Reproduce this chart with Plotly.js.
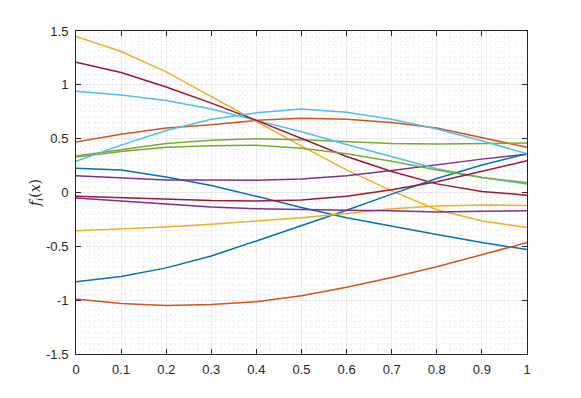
<!DOCTYPE html>
<html lang="en">
<head>
  <meta charset="UTF-8">
  <title>f_i(x)</title>
  <script src="https://cdn.plot.ly/plotly-3.0.1.min.js"></script>
  <style>
    body { margin: 0; background: #ffffff; }
    #chart { width: 581px; height: 398px; }
  </style>
</head>
<body>
  <div id="chart"></div>

  <script>
    // sample points
    const xVals = [0, 0.1, 0.2, 0.3, 0.4, 0.5, 0.6, 0.7, 0.8, 0.9, 1];
    const xTickVals = [0, 0.1, 0.2, 0.3, 0.4, 0.5, 0.6, 0.7, 0.8, 0.9, 1];
    const xTickText = ['0', '0.1', '0.2', '0.3', '0.4', '0.5', '0.6', '0.7', '0.8', '0.9', '1'];
    const yTickVals = [-1.5, -1, -0.5, 0, 0.5, 1, 1.5];
    const yTickText = ['-1.5', '-1', '-0.5', '0', '0.5', '1', '1.5'];

    // first pass through the colour order
    const blueA = [0.225, 0.21, 0.145, 0.065, -0.035, -0.14, -0.235, -0.315, -0.39, -0.465, -0.53];
    const orangeA = [0.47, 0.54, 0.60, 0.63, 0.67, 0.69, 0.68, 0.65, 0.60, 0.51, 0.42];
    const yellowA = [1.45, 1.31, 1.12, 0.89, 0.66, 0.43, 0.21, 0.015, -0.16, -0.265, -0.325];
    const purpleA = [0.155, 0.135, 0.115, 0.115, 0.113, 0.125, 0.155, 0.205, 0.26, 0.31, 0.355];
    const greenA = [0.34, 0.40, 0.455, 0.485, 0.50, 0.49, 0.47, 0.455, 0.45, 0.455, 0.46];
    const lightBlueA = [0.94, 0.905, 0.855, 0.775, 0.67, 0.565, 0.445, 0.33, 0.22, 0.14, 0.08];
    const darkRedA = [1.21, 1.115, 0.98, 0.83, 0.67, 0.50, 0.335, 0.195, 0.08, 0.01, -0.025];

    // second pass
    const blueB = [-0.83, -0.78, -0.70, -0.59, -0.45, -0.31, -0.165, -0.015, 0.13, 0.255, 0.36];
    const orangeB = [-0.99, -1.03, -1.05, -1.04, -1.015, -0.96, -0.88, -0.79, -0.69, -0.58, -0.465];
    const yellowB = [-0.355, -0.34, -0.32, -0.295, -0.265, -0.235, -0.195, -0.15, -0.125, -0.115, -0.12];
    const purpleB = [-0.05, -0.08, -0.11, -0.135, -0.15, -0.16, -0.165, -0.17, -0.18, -0.175, -0.17];
    const greenB = [0.33, 0.38, 0.42, 0.435, 0.44, 0.41, 0.36, 0.29, 0.21, 0.14, 0.09];
    const lightBlueB = [0.29, 0.44, 0.575, 0.68, 0.74, 0.775, 0.745, 0.68, 0.59, 0.48, 0.36];
    const darkRedB = [-0.035, -0.05, -0.065, -0.075, -0.078, -0.07, -0.035, 0.025, 0.10, 0.195, 0.295];

    // MATLAB default line colours
    const colorOrder = ['#0072BD', '#D95319', '#EDB120', '#7E2F8E', '#77AC30', '#4DBEEE', '#A2142F'];

    const series = [blueA, orangeA, yellowA, purpleA, greenA, lightBlueA, darkRedA,
                    blueB, orangeB, yellowB, purpleB, greenB, lightBlueB, darkRedB];

    const data = series.map((ys, i) => ({
      x: xVals,
      y: ys,
      type: 'scatter',
      mode: 'lines',
      line: { color: colorOrder[i % colorOrder.length], width: 1.5 },
      hoverinfo: 'skip',
      showlegend: false
    }));

    const axisColor = '#262626';

    const layout = {
      width: 581,
      height: 398,
      margin: { l: 76, r: 54, t: 31, b: 44 },
      paper_bgcolor: '#ffffff',
      plot_bgcolor: '#ffffff',
      font: { family: 'Liberation Sans, Arial, sans-serif', size: 13, color: axisColor },
      xaxis: {
        range: [0, 1],
        tickvals: xTickVals,
        ticktext: xTickText,
        ticks: 'inside',
        ticklen: 5,
        tickcolor: axisColor,
        ticklabelstandoff: 3,
        showline: true,
        linecolor: axisColor,
        linewidth: 1,
        mirror: 'ticks',
        showgrid: true,
        gridcolor: '#e0e0e0',
        gridwidth: 0.6,
        zeroline: false,
        minor: { dtick: 0.01, showgrid: true, gridcolor: '#ebebeb', griddash: 'dot', gridwidth: 0.6 }
      },
      yaxis: {
        range: [-1.5, 1.5],
        tickvals: yTickVals,
        ticktext: yTickText,
        ticks: 'inside',
        ticklen: 5,
        tickcolor: axisColor,
        ticklabelstandoff: 4,
        showline: true,
        linecolor: axisColor,
        linewidth: 1,
        mirror: 'ticks',
        showgrid: true,
        gridcolor: '#e0e0e0',
        gridwidth: 0.6,
        zeroline: false,
        minor: { dtick: 0.05, showgrid: true, gridcolor: '#ebebeb', griddash: 'dot', gridwidth: 0.6 },
        title: {
          text: '<i>f<sub>i</sub></i>(<i>x</i>)',
          font: { family: 'DejaVu Serif, Liberation Serif, serif', size: 14, color: axisColor },
          standoff: 2
        }
      }
    };

    Plotly.newPlot('chart', data, layout, { staticPlot: true, displayModeBar: false });
  </script>
</body>
</html>
